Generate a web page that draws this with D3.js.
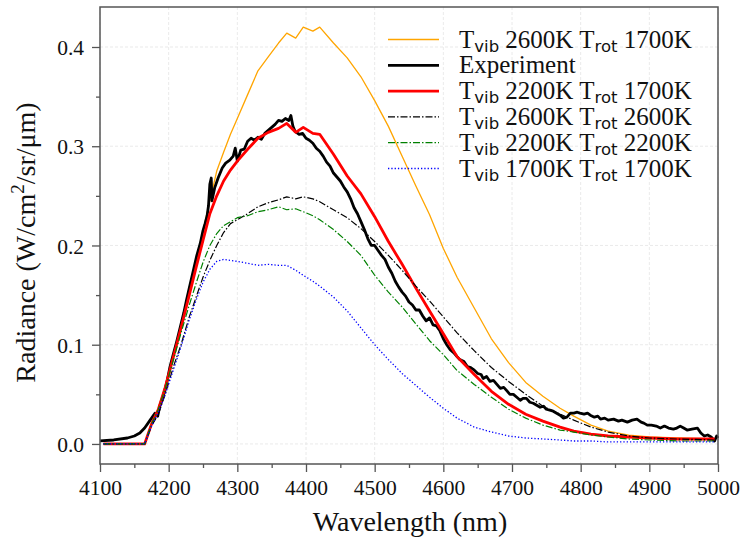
<!DOCTYPE html>
<html>
<head>
<meta charset="utf-8">
<script src="https://cdn.jsdelivr.net/npm/d3@7"></script>
<style>
  body { margin: 0; background: #fff; }
  svg { display: block; }
</style>
</head>
<body>
<div id="chart"></div>
<script>
// wavelength grid shared by the simulated spectra (nm)
const simWl = [4105, 4165, 4175, 4185, 4195, 4207, 4218, 4230, 4240, 4250, 4260, 4270, 4280, 4290, 4300,
  4315, 4330, 4345, 4360, 4372, 4385, 4396, 4410, 4420, 4440, 4460, 4480, 4500, 4520, 4540, 4560, 4580,
  4600, 4620, 4645, 4670, 4695, 4720, 4745, 4770, 4790, 4815, 4840, 4870, 4900, 4940, 4995];

const vib2600rot1700 = [0, 0, 0.02, 0.036, 0.058, 0.09, 0.12, 0.158, 0.185, 0.215, 0.245, 0.275, 0.294, 0.312, 0.328,
  0.352, 0.376, 0.39, 0.404, 0.414, 0.409, 0.42, 0.416, 0.42, 0.404, 0.389, 0.37, 0.346, 0.32, 0.29, 0.26, 0.231,
  0.197, 0.168, 0.137, 0.106, 0.082, 0.062, 0.048, 0.036, 0.028, 0.019, 0.013, 0.009, 0.007, 0.006, 0.005];

const vib2200rot1700 = [0, 0, 0.02, 0.035, 0.057, 0.088, 0.117, 0.15, 0.178, 0.205, 0.232, 0.25, 0.265, 0.276, 0.285,
  0.297, 0.308, 0.314, 0.318, 0.323, 0.314, 0.319, 0.313, 0.312, 0.292, 0.27, 0.252, 0.229, 0.204, 0.181, 0.157, 0.134,
  0.111, 0.088, 0.07, 0.053, 0.04, 0.03, 0.023, 0.017, 0.013, 0.01, 0.008, 0.007, 0.006, 0.005, 0.005];

const vib2600rot2600 = [0, 0, 0.018, 0.03, 0.05, 0.078, 0.1, 0.128, 0.148, 0.168, 0.185, 0.2, 0.213, 0.222, 0.226,
  0.232, 0.239, 0.243, 0.246, 0.249, 0.247, 0.249, 0.247, 0.244, 0.236, 0.228, 0.217, 0.204, 0.19, 0.175, 0.159, 0.144,
  0.128, 0.112, 0.094, 0.077, 0.063, 0.05, 0.038, 0.03, 0.024, 0.017, 0.012, 0.008, 0.006, 0.005, 0.004];

const vib2200rot2200 = [0, 0, 0.02, 0.035, 0.056, 0.085, 0.112, 0.14, 0.162, 0.183, 0.2, 0.212, 0.22, 0.224, 0.228,
  0.23, 0.234, 0.236, 0.239, 0.236, 0.237, 0.234, 0.23, 0.226, 0.216, 0.204, 0.19, 0.17, 0.153, 0.138, 0.121, 0.104,
  0.09, 0.074, 0.06, 0.047, 0.035, 0.026, 0.019, 0.014, 0.012, 0.009, 0.007, 0.005, 0.004, 0.003, 0.003];

const vib1700rot1700 = [0, 0, 0.018, 0.032, 0.05, 0.075, 0.098, 0.125, 0.145, 0.163, 0.176, 0.184, 0.186, 0.185, 0.184,
  0.182, 0.18, 0.181, 0.18, 0.18, 0.175, 0.17, 0.164, 0.159, 0.148, 0.134, 0.117, 0.1, 0.085, 0.071, 0.059, 0.047,
  0.036, 0.026, 0.017, 0.012, 0.008, 0.006, 0.005, 0.004, 0.003, 0.003, 0.002, 0.002, 0.002, 0.002, 0.002];

// measured spectrum
const expWl = [4100, 4120, 4140, 4150, 4158, 4165, 4173, 4180, 4184, 4187, 4192, 4197, 4202, 4207, 4212, 4217,
  4222, 4226, 4231, 4236, 4241, 4246, 4250, 4253, 4256, 4258, 4260, 4262, 4263, 4267, 4272, 4278, 4283, 4289,
  4294, 4297, 4300, 4305, 4310, 4315, 4320, 4325, 4330, 4335, 4340, 4345, 4350, 4355, 4360, 4365, 4370, 4375,
  4378, 4381, 4384, 4390, 4395, 4400, 4405, 4410, 4415, 4420, 4425, 4430, 4435, 4440, 4445, 4450, 4455, 4460,
  4465, 4470, 4475, 4480, 4485, 4490, 4495, 4500, 4505, 4510, 4515, 4520, 4525, 4530, 4535, 4540, 4545, 4550,
  4555, 4560, 4565, 4570, 4575, 4580, 4585, 4590, 4595, 4600, 4605, 4610, 4615, 4620, 4624, 4630, 4635, 4640,
  4644, 4650, 4655, 4658, 4663, 4668, 4673, 4678, 4683, 4688, 4692, 4697, 4702, 4707, 4712, 4716, 4721, 4726,
  4731, 4736, 4741, 4746, 4750, 4755, 4760, 4765, 4770, 4775, 4780, 4785, 4790, 4795, 4799, 4805, 4810, 4814,
  4820, 4825, 4829, 4835, 4840, 4848, 4855, 4860, 4868, 4875, 4882, 4888, 4892, 4897, 4903, 4910, 4916, 4922,
  4928, 4935, 4940, 4945, 4950, 4955, 4962, 4970, 4975, 4980, 4985, 4990, 4995, 4998, 5000];
const expVal = [0.003, 0.004, 0.006, 0.008, 0.011, 0.016, 0.024, 0.031, 0.028, 0.038, 0.048, 0.061, 0.078, 0.091, 0.104, 0.118,
  0.132, 0.145, 0.16, 0.175, 0.19, 0.202, 0.215, 0.222, 0.23, 0.24, 0.262, 0.268, 0.245, 0.258, 0.268, 0.278, 0.283, 0.286,
  0.29, 0.298, 0.285, 0.296, 0.297, 0.305, 0.308, 0.306, 0.309, 0.307, 0.313, 0.316, 0.319, 0.322, 0.326, 0.325, 0.328, 0.326,
  0.331, 0.32, 0.315, 0.312, 0.313, 0.308, 0.306, 0.303, 0.298, 0.295, 0.29, 0.284, 0.28, 0.273, 0.269, 0.265, 0.259, 0.254,
  0.247, 0.238, 0.232, 0.224, 0.216, 0.207, 0.2, 0.2, 0.195, 0.19, 0.186, 0.178, 0.172, 0.164, 0.158, 0.153, 0.149, 0.143,
  0.14, 0.135, 0.135, 0.129, 0.124, 0.127, 0.12, 0.119, 0.114, 0.106, 0.1, 0.095, 0.092, 0.088, 0.085, 0.083, 0.078, 0.077,
  0.075, 0.071, 0.07, 0.066, 0.068, 0.063, 0.064, 0.06, 0.056, 0.057, 0.054, 0.05, 0.05, 0.047, 0.044, 0.046, 0.046, 0.042,
  0.041, 0.039, 0.037, 0.038, 0.035, 0.034, 0.033, 0.031, 0.029, 0.026, 0.027, 0.031, 0.031, 0.032, 0.031, 0.03, 0.031, 0.029,
  0.027, 0.028, 0.025, 0.026, 0.024, 0.025, 0.023, 0.024, 0.022, 0.024, 0.025, 0.022, 0.021, 0.019, 0.019, 0.018, 0.016, 0.018,
  0.016, 0.015, 0.016, 0.018, 0.016, 0.014, 0.015, 0.016, 0.011, 0.008, 0.009, 0.007, 0.003, 0.008, 0.006];

const xTicks = [4100, 4200, 4300, 4400, 4500, 4600, 4700, 4800, 4900, 5000];
const yTicks = [0.0, 0.1, 0.2, 0.3, 0.4];

// legend order matches the reference
const series = [
  { vib: '2600K', rot: '1700K', wl: simWl, val: vib2600rot1700, color: 'orange', width: 1.3, dash: null },
  { label: 'Experiment', wl: expWl, val: expVal, color: 'black', width: 2.8, dash: null },
  { vib: '2200K', rot: '1700K', wl: simWl, val: vib2200rot1700, color: 'red', width: 2.8, dash: null },
  { vib: '2600K', rot: '2600K', wl: simWl, val: vib2600rot2600, color: 'black', width: 1.2, dash: '7,2,1.5,2' },
  { vib: '2200K', rot: '2200K', wl: simWl, val: vib2200rot2200, color: 'green', width: 1.2, dash: '7,2,1.5,2' },
  { vib: '1700K', rot: '1700K', wl: simWl, val: vib1700rot1700, color: 'blue', width: 1.3, dash: '1.3,2' }
];

const width = 740;
const height = 537;
const margin = { top: 7, right: 22, bottom: 73, left: 100 };
const serif = '"Liberation Serif", "Times New Roman", serif';
const sans = '"DejaVu Sans", sans-serif';

const svg = d3.select('#chart')
  .append('svg')
  .attr('width', width)
  .attr('height', height);

const x = d3.scaleLinear().domain([4100, 5000]).range([margin.left, width - margin.right]);
const y = d3.scaleLinear().domain([-0.0202, 0.4403]).range([height - margin.bottom, margin.top]);

// grid
const grid = svg.append('g');
grid.selectAll('.gx')
  .data(xTicks)
  .enter()
  .append('line')
  .attr('x1', (d) => x(d)).attr('x2', (d) => x(d))
  .attr('y1', y.range()[1]).attr('y2', y.range()[0])
  .attr('stroke', '#e4e4e4').attr('stroke-width', 0.8).attr('stroke-dasharray', '3,2');
grid.selectAll('.gy')
  .data(yTicks)
  .enter()
  .append('line')
  .attr('y1', (d) => y(d)).attr('y2', (d) => y(d))
  .attr('x1', x.range()[0]).attr('x2', x.range()[1])
  .attr('stroke', '#e4e4e4').attr('stroke-width', 0.8).attr('stroke-dasharray', '3,2');

// curves
const plot = svg.append('g');
series.forEach((s) => {
  const pts = s.wl.map((w, i) => [w, s.val[i]]);
  const line = d3.line().x((d) => x(d[0])).y((d) => y(d[1]));
  plot.append('path')
    .datum(pts)
    .attr('d', line)
    .attr('fill', 'none')
    .attr('stroke', s.color)
    .attr('stroke-width', s.width)
    .attr('stroke-linejoin', 'round')
    .attr('stroke-dasharray', s.dash);
});

// axes
const axisColor = '#555';
const xAxis = svg.append('g')
  .attr('transform', 'translate(0,' + y.range()[0] + ')')
  .call(d3.axisBottom(x).tickValues(xTicks).tickFormat(d3.format('d')).tickSize(8).tickPadding(8));
const xMinor = svg.append('g')
  .attr('transform', 'translate(0,' + y.range()[0] + ')')
  .call(d3.axisBottom(x).tickValues(d3.range(4150, 5000, 100)).tickFormat('').tickSize(4));
const yAxis = svg.append('g')
  .attr('transform', 'translate(' + x.range()[0] + ',0)')
  .call(d3.axisLeft(y).tickValues(yTicks).tickFormat(d3.format('.1f')).tickSize(8).tickPadding(8));
const yMinor = svg.append('g')
  .attr('transform', 'translate(' + x.range()[0] + ',0)')
  .call(d3.axisLeft(y).tickValues([0.05, 0.15, 0.25, 0.35]).tickFormat('').tickSize(4));

[xAxis, xMinor, yAxis, yMinor].forEach((a) => {
  a.select('.domain').remove();
  a.selectAll('line').attr('stroke', axisColor).attr('stroke-width', 1.3);
  a.selectAll('text')
    .attr('fill', '#111')
    .style('font-family', serif)
    .style('font-size', '21.5px');
});
yAxis.selectAll('text').attr('dy', '0.35em');

// frame
svg.append('rect')
  .attr('x', x.range()[0])
  .attr('y', y.range()[1])
  .attr('width', x.range()[1] - x.range()[0])
  .attr('height', y.range()[0] - y.range()[1])
  .attr('fill', 'none')
  .attr('stroke', axisColor)
  .attr('stroke-width', 1.5);

// axis titles
svg.append('text')
  .attr('x', (x.range()[0] + x.range()[1]) / 2 + 1)
  .attr('y', 531)
  .attr('text-anchor', 'middle')
  .style('font-family', serif)
  .style('font-size', '28px')
  .attr('fill', '#111')
  .text('Wavelength (nm)');

const yTitle = svg.append('text')
  .attr('transform', 'translate(35,' + ((y.range()[0] + y.range()[1]) / 2 + 7) + ') rotate(-90)')
  .attr('text-anchor', 'middle')
  .style('font-family', serif)
  .style('font-size', '28px')
  .attr('fill', '#111');
yTitle.append('tspan').text('Radiance (W/cm');
yTitle.append('tspan').attr('dy', -11).style('font-size', '19px').text('2');
yTitle.append('tspan').attr('dy', 11).text('/sr/\u03bcm)');

// legend
const legend = svg.append('g');
const rowY = (i) => 39.5 + i * 25.8;
series.forEach((s, i) => {
  legend.append('line')
    .attr('x1', 388).attr('x2', 439)
    .attr('y1', rowY(i)).attr('y2', rowY(i))
    .attr('stroke', s.color)
    .attr('stroke-width', s.width)
    .attr('stroke-dasharray', s.dash);
  const t = legend.append('text')
    .attr('x', 459)
    .attr('y', rowY(i) + 8)
    .style('font-family', serif)
    .style('font-size', '25px')
    .attr('fill', '#111');
  if (s.label) {
    t.text(s.label);
  } else {
    t.append('tspan').text('T');
    t.append('tspan').attr('dy', 4).style('font-family', sans).style('font-size', '16.5px').text('vib');
    t.append('tspan').attr('dy', -4).text(' ' + s.vib + ' T');
    t.append('tspan').attr('dy', 4).style('font-family', sans).style('font-size', '16.5px').text('rot');
    t.append('tspan').attr('dy', -4).text(' ' + s.rot);
  }
});
</script>
</body>
</html>
